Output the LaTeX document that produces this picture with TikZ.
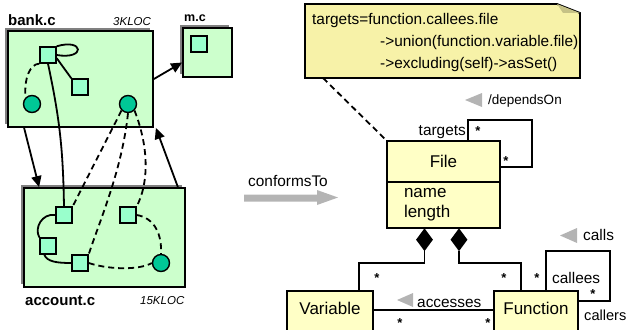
\documentclass[tikz,border=0pt]{standalone}
\usepackage{fontspec}
\setmainfont{Liberation Sans}
\usetikzlibrary{arrows.meta,shapes.geometric,shadows}
\definecolor{lgreen}{HTML}{CCFFCC}
\definecolor{mint}{HTML}{99FFCC}
\definecolor{circfill}{HTML}{00C896}
\definecolor{cream}{HTML}{FFFFC6}
\definecolor{notey}{HTML}{F7F2A8}
\definecolor{shadowgrey}{HTML}{808080}
\definecolor{arrgrey}{HTML}{B4B4B4}
\begin{document}
\begin{tikzpicture}[x=1pt,y=-1pt,
  every node/.style={inner sep=0pt},
  ln/.style={line width=1.8pt},
  modbox/.style={draw, line width=1.8pt, fill=lgreen,
    general shadow={fill=shadowgrey, shadow xshift=-3pt, shadow yshift=3pt}},
  sq/.style={draw, line width=1.4pt, fill=mint, minimum size=16pt},
  circ/.style={circle, draw, line width=1.4pt, fill=circfill, minimum size=17pt},
  arr/.style={ln, -{Triangle[length=11pt,width=10pt]}},
  dsh/.style={ln, dash pattern=on 6pt off 4pt},
  cls/.style={draw, line width=1.8pt, fill=cream, outer sep=0pt},
  dia/.style={diamond, fill=black, inner sep=0pt, minimum width=17pt, minimum height=23pt},
  star/.style={font=\bfseries\fontsize{13}{13}\selectfont},
  lbl/.style={font=\fontsize{15.4}{18}\selectfont},
  big/.style={font=\fontsize{17}{20}\selectfont},
  modlbl/.style={font=\bfseries\fontsize{15}{18}\selectfont, anchor=base west},
  loc/.style={font=\itshape\fontsize{11.5}{14}\selectfont, anchor=base west},
]
\useasboundingbox (0,0) rectangle (628,329);

% ---------------- left: modules ----------------
\node[modbox, minimum width=145pt, minimum height=96pt] (bank) at (80.5,79) {};
\node[modbox, minimum width=49pt, minimum height=49pt] (mc) at (207.5,52.5) {};
\node[modbox, minimum width=161pt, minimum height=99pt] (account) at (104.5,237.5) {};

\node[modlbl] (banklbl) at (8,26) {bank.c};
\node[loc] (bankloc) at (113,26) {3KLOC};
\node[modlbl, font=\bfseries\fontsize{12.5}{15}\selectfont] (mclbl) at (184,22) {m.c};
\node[modlbl] (acclbl) at (25,305) {account.c};
\node[loc] (accloc) at (140,304) {15KLOC};

% bank.c contents
\node[sq] (bs1) at (48,55) {};
\node[sq] (bs2) at (80,87) {};
\node[circ] (bc1) at (32,104) {};
\node[circ] (bc2) at (128,104) {};
% m.c contents
\node[sq] (ms) at (199,44) {};
% account.c contents
\node[sq] (as1) at (64,215) {};
\node[sq] (as2) at (128,215) {};
\node[sq] (as3) at (48,246) {};
\node[sq] (as4) at (80,263) {};
\node[circ] (ac) at (161,263) {};

% edges inside bank.c
\draw[ln] (bs1.north east) .. controls (84,38) and (86,60) .. (bs1.east);
\draw[ln] (bs1.-20) -- (bs2.north west);
\draw[dsh] (bs1.south west) .. controls (30,64) and (24,78) .. (bc1.north west);
% edges inside account.c
\draw[ln] (as1.west) .. controls (42,213) and (34,228) .. (as3.north west);
\draw[ln] ([xshift=5pt]as3.south west) .. controls (47,262) and (58,263) .. (as4.west);
\draw[dsh] (as4.east) .. controls (110,270) and (140,270) .. (ac.west);
\draw[dsh] (as2.east) .. controls (155,218) and (162,235) .. (ac.north);
% edges between modules
\draw[ln] (bs1.south) .. controls (60,120) and (63,150) .. (as1.north);
\draw[dsh] (bc2.south west) -- (as1.north east);
\draw[dsh] (bc2.south) .. controls (122,170) and (100,220) .. (as4.north east);
\draw[dsh] (bc2.south east) .. controls (150,150) and (148,185) .. (as2.north east);
\draw[arr] ([xshift=17pt]bank.south west) -- ([xshift=16pt]account.north west);
\draw[arr] ([xshift=-8pt]account.north east) -- ([xshift=2pt]bank.south east);
\draw[arr] (bank.east) -- ([yshift=-10pt]mc.west);

% ---------------- conformsTo ----------------
\node[lbl, anchor=base] (conf) at (288,186) {conformsTo};
\fill[arrgrey] (244,194.5) -- (317,194.5) -- (317,190) -- (338,197.5) -- (317,205) -- (317,201.5) -- (244,201.5) -- cycle;

% ---------------- note ----------------
\draw[line width=1.8pt, fill=notey] (305,4) -- (557,4) -- (580,13) -- (580,78) -- (305,78) -- cycle;
\fill[notey!80!black] (557,4) -- (563,13) -- (580,13) -- cycle;
\node[lbl, anchor=base west] (n1) at (312,25) {targets=function.callees.file};
\node[lbl, anchor=base west] (n2) at (380,46.5) {->union(function.variable.file)};
\node[lbl, anchor=base west] (n3) at (380,68) {->excluding(self)->asSet()};
\coordinate (nb) at (323,78);

% ---------------- UML ----------------
\node[cls, big, minimum width=113pt, minimum height=41pt] (file) at (443.5,161.5) {File};
\node[cls, big, minimum width=113pt, minimum height=46pt, text width=79pt, align=left,
      anchor=north] (fileattr) at (file.south) {name\\length};
\draw[dsh] (nb) -- (file.north west);

\node[cls, big, minimum width=86pt, minimum height=41pt, text height=12pt, text depth=6pt] (var) at (330,311.5) {Variable};
\node[cls, big, minimum width=84pt, minimum height=41pt, text height=12pt, text depth=6pt] (fun) at (536,311.5) {Function};

\node[dia, anchor=north] (d1) at ([xshift=-19pt]fileattr.south) {};
\node[dia, anchor=north] (d2) at ([xshift=15.5pt]fileattr.south) {};
\coordinate (v1) at (359,263);
\coordinate (f1) at (521,263);
\draw[ln] (d1.south) |- (v1) -- (v1 |- var.north);
\draw[ln] (d2.south) |- (f1) -- (f1 |- fun.north);

% dependsOn self association
\coordinate (dep1) at (532,120);
\draw[ln] ([xshift=24.5pt]file.north) |- (dep1) |- ([yshift=-5.5pt]file.east);
\node[lbl, anchor=base east] (tgt) at (466,135) {targets};
\node[star] (s1) at (478,131) {*};
\node[star] (s2) at (506,161) {*};
\fill[arrgrey] (465,100) -- (482,93) -- (482,107) -- cycle;
\node[anchor=base west, font=\fontsize{13.5}{15}\selectfont] (dep) at (488,104) {/dependsOn};

% accesses
\draw[ln] ([yshift=1.5pt]var.east) -- ([yshift=1.5pt]fun.west);
\fill[arrgrey] (397,300) -- (413,293) -- (413,307) -- cycle;
\node[lbl, anchor=base west] (acc) at (417,307) {accesses};
\node[star] (s3) at (377,278) {*};
\node[star] (s4) at (504,278) {*};
\node[star] (s5) at (400,323) {*};
\node[star] (s6) at (488,323) {*};

% calls self association
\coordinate (cl1) at (610,251);
\draw[ln] ([xshift=10pt]fun.north) |- (cl1) |- ([yshift=10.5pt]fun.east);
\fill[arrgrey] (560,235.5) -- (577,228) -- (577,243) -- cycle;
\node[lbl, anchor=base west] (calls) at (583,240) {calls};
\node[star] (s7) at (537,278) {*};
\node[lbl, anchor=base west] (callees) at (552,283) {callees};
\node[star] (s8) at (593,294) {*};
\node[anchor=base west, font=\fontsize{14.6}{17}\selectfont] (callers) at (584,320) {callers};
\end{tikzpicture}
\end{document}
